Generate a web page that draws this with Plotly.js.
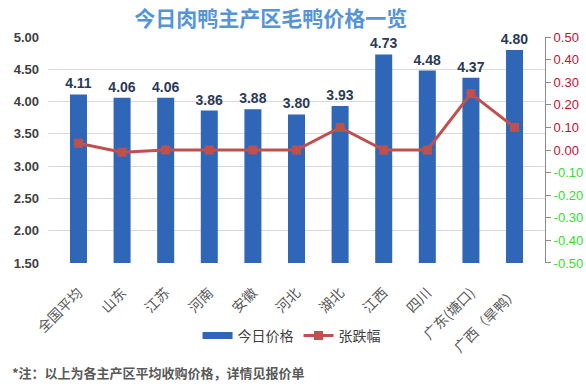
<!DOCTYPE html>
<html>
<head>
<meta charset="utf-8">
<script src="https://cdn.plot.ly/plotly-3.0.1.min.js"></script>
<style>html,body{margin:0;padding:0;background:#fff;}</style>
</head>
<body>
<div id="chart" style="width:586px;height:387px;"></div>
<script>
const categories = ["全国平均", "山东", "江苏", "河南", "安徽", "河北", "湖北", "江西", "四川", "广东(塘口)", "广西（旱鸭）"];
const prices = [4.11, 4.06, 4.06, 3.86, 3.88, 3.80, 3.93, 4.73, 4.48, 4.37, 4.80];
const changes = [0.03, -0.01, 0.00, 0.00, 0.00, 0.00, 0.10, 0.00, 0.00, 0.25, 0.10];
const rightTickVals = [0.5, 0.4, 0.3, 0.2, 0.1, 0.0, -0.1, -0.2, -0.3, -0.4, -0.5];

const cjk = '"Noto Sans CJK SC", "Noto Sans", sans-serif';
const num = '"Liberation Sans", Arial, sans-serif';

const rightTickText = rightTickVals.map(v => {
  const c = v < 0 ? '#33dd33' : '#c8102e';
  return '<span style="color:' + c + '">' + v.toFixed(2) + '</span>';
});

const barColor = '#2f66b8';

const traces = [
  {
    type: 'bar',
    name: '今日价格',
    x: categories,
    y: prices,
    width: 0.39,
    marker: {color: barColor},
    text: prices.map(v => v.toFixed(2)),
    textposition: 'outside',
    constraintext: 'none',
    cliponaxis: false,
    textfont: {family: num, size: 14, color: '#2a3b55', weight: 'bold'},
    showlegend: false,
    hoverinfo: 'skip'
  },
  {
    type: 'scatter',
    mode: 'lines',
    name: '今日价格',
    x: [null],
    y: [null],
    line: {color: barColor, width: 7},
    showlegend: true,
    hoverinfo: 'skip'
  },
  {
    type: 'scatter',
    mode: 'lines+markers',
    name: '张跌幅',
    x: categories,
    y: changes,
    yaxis: 'y2',
    line: {color: '#c0504d', width: 3},
    marker: {symbol: 'square', size: 9, color: '#c0504d'},
    hoverinfo: 'skip'
  }
];

const layout = {
  width: 586,
  height: 387,
  margin: {l: 48, r: 41, t: 37, b: 106},
  paper_bgcolor: '#ffffff',
  plot_bgcolor: '#ffffff',
  showlegend: true,
  title: {
    text: '今日肉鸭主产区毛鸭价格一览',
    font: {family: cjk, size: 21, color: '#5694d8', weight: 'bold'},
    x: 0.462, xanchor: 'center',
    y: 0.953, yanchor: 'middle'
  },
  xaxis: {
    type: 'category',
    anchor: 'free',
    position: 0,
    tickangle: -45,
    tickfont: {family: cjk, size: 14, color: '#595959'},
    ticks: '',
    showgrid: false,
    showline: false
  },
  yaxis: {
    domain: [0.0738, 1],
    range: [1.5, 5.0],
    dtick: 0.5,
    tickformat: '.2f',
    tickfont: {family: num, size: 13, color: '#404040', weight: 'bold'},
    ticklabelstandoff: 8,
    gridcolor: '#d9d9d9',
    gridwidth: 1,
    zeroline: false,
    showline: false,
    ticks: ''
  },
  yaxis2: {
    overlaying: 'y',
    side: 'right',
    range: [-0.5, 0.5],
    tickvals: rightTickVals,
    ticktext: rightTickText,
    tickfont: {family: num, size: 13, color: '#8c8c8c'},
    showgrid: false,
    zeroline: false,
    showline: true,
    linecolor: '#8c8c8c',
    linewidth: 1,
    ticks: 'outside',
    ticklen: 5,
    tickcolor: '#8c8c8c'
  },
  legend: {
    orientation: 'h',
    x: 0.49, xanchor: 'center',
    y: -0.2254, yanchor: 'middle',
    font: {family: cjk, size: 14, color: '#404040'},
    traceorder: 'normal'
  },
  annotations: [
    {
      text: '*注：以上为各主产区平均收购价格，详情见报价单',
      xref: 'paper', yref: 'paper',
      x: -0.076, xanchor: 'left',
      y: -0.373, yanchor: 'middle',
      showarrow: false,
      font: {family: cjk, size: 13, color: '#595959', weight: 'bold'}
    }
  ]
};

Plotly.newPlot('chart', traces, layout, {displayModeBar: false, staticPlot: true});
</script>
</body>
</html>
